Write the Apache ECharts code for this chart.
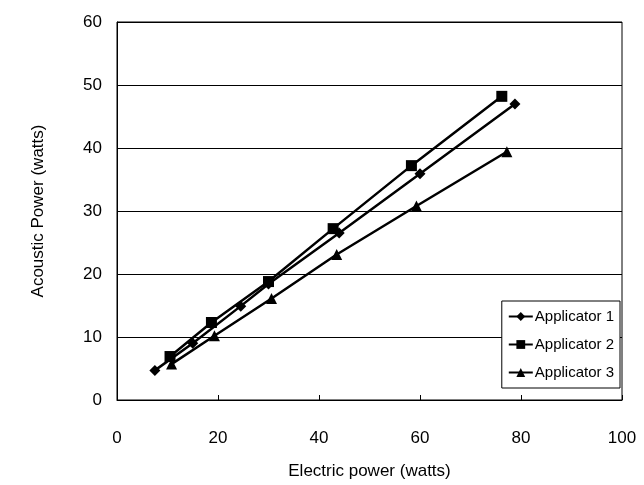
<!DOCTYPE html>
<html>
<head>
<meta charset="utf-8">
<script src="https://cdn.jsdelivr.net/npm/echarts@6/dist/echarts.min.js"></script>
<style>
  html, body { margin: 0; padding: 0; background: #fff; }
  #chart { width: 644px; height: 485px; }
</style>
</head>
<body>
<div id="chart"></div>
<script>
// data
const seriesNames = ['Applicator 1', 'Applicator 2', 'Applicator 3'];
const app1 = [[7.5, 4.7], [15, 9], [24.5, 14.9], [30, 18.4], [44, 26.5], [60, 35.9], [78.8, 47]];
const app2 = [[10.5, 6.9], [18.7, 12.3], [30, 18.8], [42.8, 27.2], [58.3, 37.2], [76.2, 48.2]];
const app3 = [[10.8, 5.7], [19.3, 10.2], [30.6, 16.1], [43.5, 23.1], [59.3, 30.8], [77.2, 39.4]];
const xTicks = [0, 20, 40, 60, 80, 100];
const yTicks = [0, 10, 20, 30, 40, 50, 60];

const myChart = echarts.init(document.getElementById('chart'));
const font = 'Liberation Sans, Arial, sans-serif';

function line(name, data, symbol, size) {
  return {
    name: name,
    type: 'line',
    data: data,
    symbol: symbol,
    symbolSize: size,
    lineStyle: { color: '#000', width: 2.5 },
    itemStyle: { color: '#000' },
    animation: false
  };
}

const option = {
  backgroundColor: '#fff',
  grid: {
    left: 117,
    right: 22,
    top: 22,
    bottom: 85,
    show: true,
    borderColor: '#000',
    borderWidth: 1
  },
  legend: {
    data: seriesNames,
    orient: 'vertical',
    right: 24,
    top: 301,
    itemWidth: 24,
    itemHeight: 11,
    itemGap: 13,
    padding: [8, 6, 8, 6],
    borderColor: '#000',
    borderWidth: 1,
    backgroundColor: '#fff',
    textStyle: { fontFamily: font, fontSize: 15, color: '#000', padding: [0, 0, 0, -3] }
  },
  xAxis: {
    type: 'value',
    min: 0,
    max: 100,
    interval: 20,
    name: 'Electric power (watts)',
    nameLocation: 'middle',
    nameGap: 63,
    nameTextStyle: { fontFamily: font, fontSize: 17, color: '#000' },
    axisLine: { show: true, lineStyle: { color: '#000', width: 1 } },
    axisTick: { show: true, inside: true, length: 5, lineStyle: { color: '#000' } },
    axisLabel: {
      fontFamily: font, fontSize: 17, color: '#000', margin: 30,
      formatter: v => xTicks.includes(v) ? String(v) : ''
    },
    splitLine: { show: false }
  },
  yAxis: {
    type: 'value',
    min: 0,
    max: 60,
    interval: 10,
    name: 'Acoustic Power (watts)',
    nameLocation: 'middle',
    nameGap: 70,
    nameTextStyle: { fontFamily: font, fontSize: 17, color: '#000' },
    axisLine: { show: true, lineStyle: { color: '#000', width: 1 } },
    axisTick: { show: false },
    axisLabel: {
      fontFamily: font, fontSize: 17, color: '#000', margin: 15,
      formatter: v => yTicks.includes(v) ? String(v) : ''
    },
    splitLine: { show: true, lineStyle: { color: '#000', width: 1 } }
  },
  series: [
    line(seriesNames[0], app1, 'diamond', 11),
    line(seriesNames[1], app2, 'rect', 11),
    line(seriesNames[2], app3, 'triangle', 11)
  ]
};

myChart.setOption(option);
</script>
</body>
</html>
